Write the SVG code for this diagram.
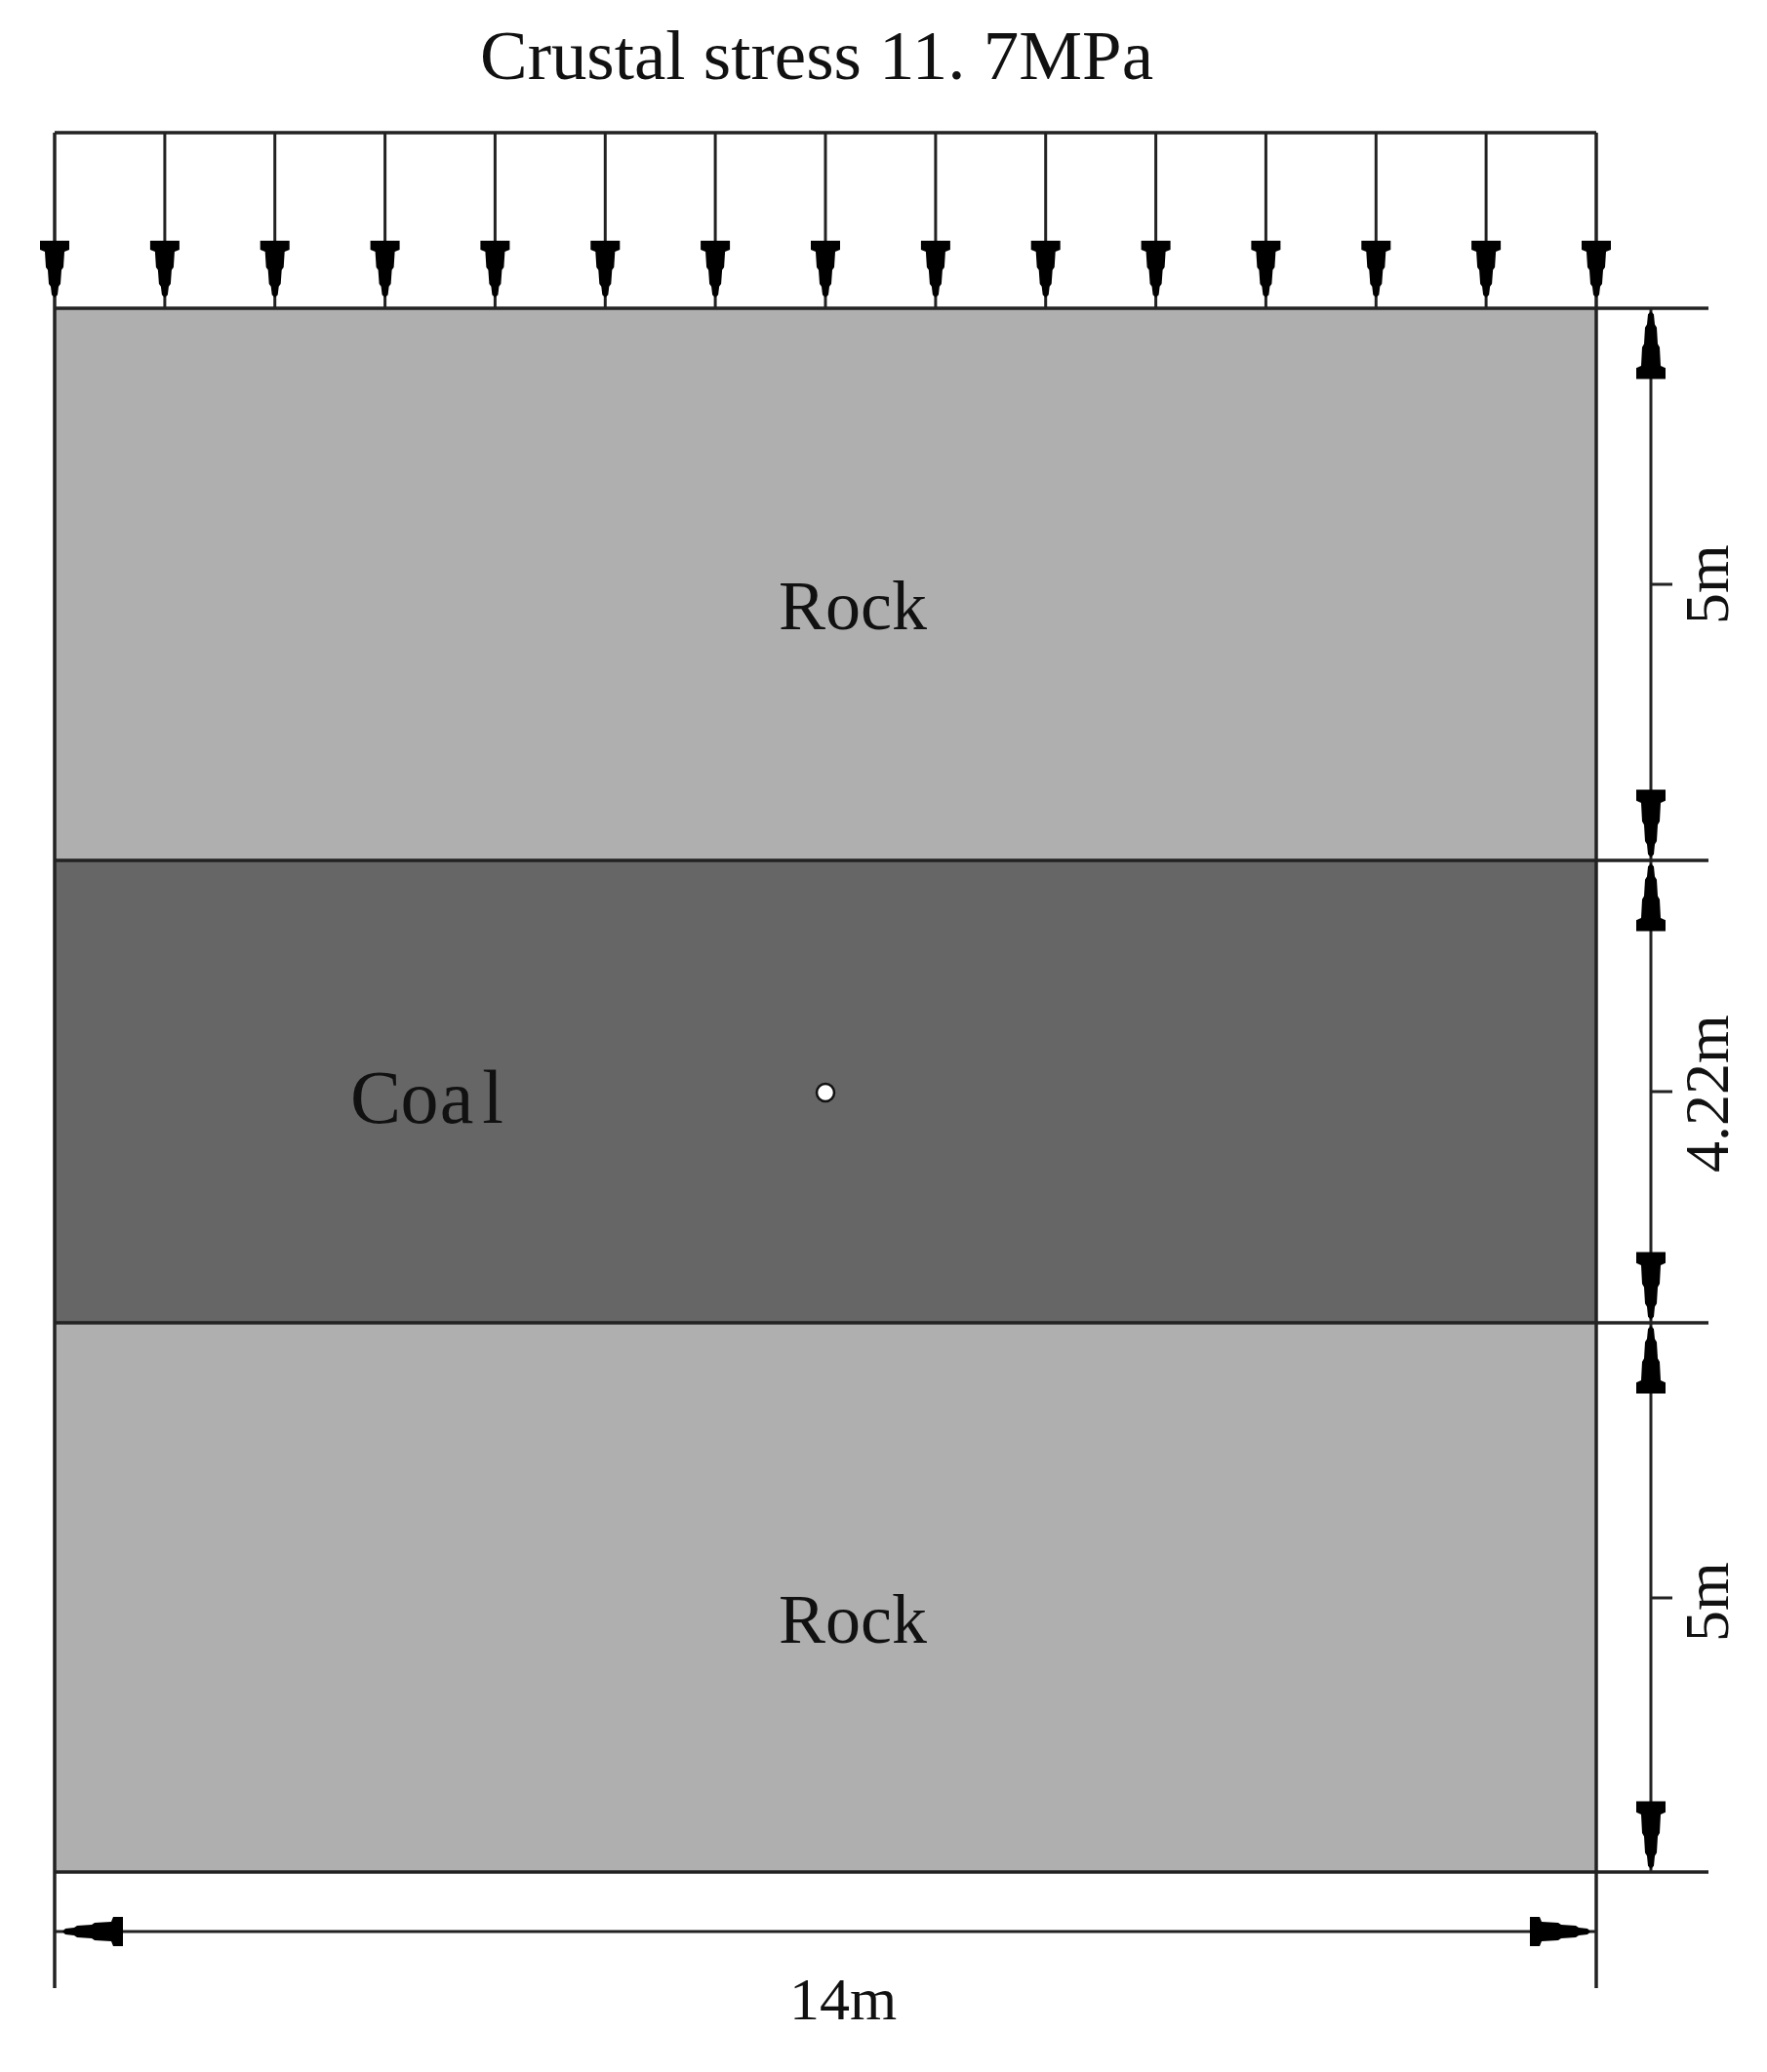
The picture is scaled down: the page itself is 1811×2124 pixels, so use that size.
<svg xmlns="http://www.w3.org/2000/svg" xmlns:xlink="http://www.w3.org/1999/xlink" width="1811" height="2124" viewBox="0 0 1811 2124">
<style>
.ln{stroke:#222;stroke-width:3.5;fill:none}
.dim{stroke:#222;stroke-width:3;fill:none}
.lbl{font-family:"Liberation Serif","Times New Roman",serif;fill:#111}
.arw{fill:#000}
</style>
<defs>
<path id="ah" d="M0,0 L-3,-3 L-4,-12 L-6,-15 L-7,-30 L-9,-33 L-10,-50 L-15,-52 L-15,-62 L15,-62 L15,-52 L10,-50 L9,-33 L7,-30 L6,-15 L4,-12 L3,-3 Z"/>
</defs>
<rect width="1811" height="2124" fill="#fff"/>

<g id="title">
<text class="lbl" x="492" y="81" font-size="72" textLength="690" lengthAdjust="spacingAndGlyphs">Crustal stress 11. 7MPa</text>
</g>

<g id="rock-top">
<rect x="56" y="316" width="1580" height="566" fill="#afafaf"/>
<text class="lbl" x="874" y="645" font-size="72" text-anchor="middle">Rock</text>
</g>
<g id="coal">
<rect x="56" y="882" width="1580" height="474" fill="#666666"/>
<text class="lbl" y="1151" font-size="78" text-anchor="middle" x="385 430 468 505">Coal</text>
<circle cx="846" cy="1120" r="9" fill="#fff" stroke="#111" stroke-width="2.5"/>
</g>
<g id="rock-bottom">
<rect x="56" y="1356" width="1580" height="563" fill="#afafaf"/>
<text class="lbl" x="874" y="1684" font-size="72" text-anchor="middle">Rock</text>
</g>

<g id="connectors">
<line class="ln" x1="56" y1="136" x2="1636" y2="136"/>
<line class="ln" x1="56" y1="136" x2="56" y2="2038"/>
<line class="ln" x1="1636" y1="136" x2="1636" y2="2038"/>
<line class="ln" x1="56" y1="316" x2="1751" y2="316"/>
<line class="ln" x1="56" y1="882" x2="1751" y2="882"/>
<line class="ln" x1="56" y1="1356" x2="1751" y2="1356"/>
<line class="ln" x1="56" y1="1919" x2="1751" y2="1919"/>
<g class="dim">
<line x1="168.9" y1="136" x2="168.9" y2="316"/>
<line x1="281.7" y1="136" x2="281.7" y2="316"/>
<line x1="394.6" y1="136" x2="394.6" y2="316"/>
<line x1="507.4" y1="136" x2="507.4" y2="316"/>
<line x1="620.3" y1="136" x2="620.3" y2="316"/>
<line x1="733.1" y1="136" x2="733.1" y2="316"/>
<line x1="846" y1="136" x2="846" y2="316"/>
<line x1="958.9" y1="136" x2="958.9" y2="316"/>
<line x1="1071.7" y1="136" x2="1071.7" y2="316"/>
<line x1="1184.6" y1="136" x2="1184.6" y2="316"/>
<line x1="1297.4" y1="136" x2="1297.4" y2="316"/>
<line x1="1410.3" y1="136" x2="1410.3" y2="316"/>
<line x1="1523.1" y1="136" x2="1523.1" y2="316"/>
</g>
<g class="arw">
<use xlink:href="#ah" transform="translate(56,305) scale(1,0.94)"/>
<use xlink:href="#ah" transform="translate(168.9,305) scale(1,0.94)"/>
<use xlink:href="#ah" transform="translate(281.7,305) scale(1,0.94)"/>
<use xlink:href="#ah" transform="translate(394.6,305) scale(1,0.94)"/>
<use xlink:href="#ah" transform="translate(507.4,305) scale(1,0.94)"/>
<use xlink:href="#ah" transform="translate(620.3,305) scale(1,0.94)"/>
<use xlink:href="#ah" transform="translate(733.1,305) scale(1,0.94)"/>
<use xlink:href="#ah" transform="translate(846,305) scale(1,0.94)"/>
<use xlink:href="#ah" transform="translate(958.9,305) scale(1,0.94)"/>
<use xlink:href="#ah" transform="translate(1071.7,305) scale(1,0.94)"/>
<use xlink:href="#ah" transform="translate(1184.6,305) scale(1,0.94)"/>
<use xlink:href="#ah" transform="translate(1297.4,305) scale(1,0.94)"/>
<use xlink:href="#ah" transform="translate(1410.3,305) scale(1,0.94)"/>
<use xlink:href="#ah" transform="translate(1523.1,305) scale(1,0.94)"/>
<use xlink:href="#ah" transform="translate(1636,305) scale(1,0.94)"/>
</g>
<line class="dim" x1="1692" y1="316" x2="1692" y2="1919"/>
<line class="dim" x1="1692" y1="599" x2="1714" y2="599"/>
<line class="dim" x1="1692" y1="1119" x2="1714" y2="1119"/>
<line class="dim" x1="1692" y1="1638" x2="1714" y2="1638"/>
<g class="arw">
<use xlink:href="#ah" transform="translate(1692,319) rotate(180) scale(1,1.12)"/>
<use xlink:href="#ah" transform="translate(1692,879) scale(1,1.12)"/>
<use xlink:href="#ah" transform="translate(1692,885) rotate(180) scale(1,1.12)"/>
<use xlink:href="#ah" transform="translate(1692,1353) scale(1,1.12)"/>
<use xlink:href="#ah" transform="translate(1692,1359) rotate(180) scale(1,1.12)"/>
<use xlink:href="#ah" transform="translate(1692,1916) scale(1,1.12)"/>
</g>
<line class="dim" x1="56" y1="1980" x2="1636" y2="1980"/>
<g class="arw">
<use xlink:href="#ah" transform="translate(64,1980) rotate(90)"/>
<use xlink:href="#ah" transform="translate(1630,1980) rotate(-90)"/>
</g>
</g>

<g id="dim-labels">
<text class="lbl" font-size="64" text-anchor="middle" transform="translate(1771,599) rotate(-90)">5m</text>
<text class="lbl" font-size="64" text-anchor="middle" transform="translate(1771,1121) rotate(-90)">4.22m</text>
<text class="lbl" font-size="64" text-anchor="middle" transform="translate(1771,1642) rotate(-90)">5m</text>
<text class="lbl" font-size="62" text-anchor="middle" x="864" y="2070">14m</text>
</g>
</svg>
